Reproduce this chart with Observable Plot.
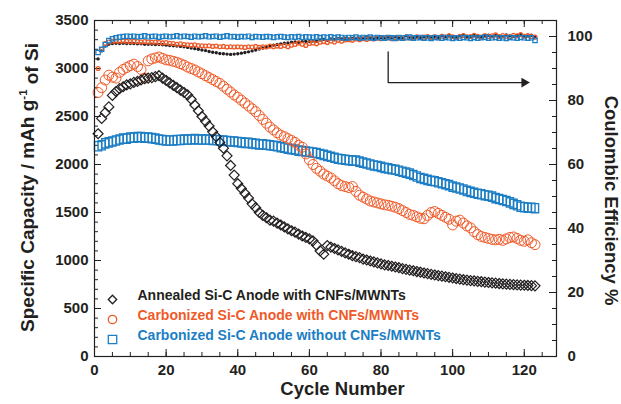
<!DOCTYPE html>
<html><head><meta charset="utf-8">
<script src="https://cdn.jsdelivr.net/npm/d3@7"></script>
<script src="https://cdn.jsdelivr.net/npm/@observablehq/plot@0.6"></script>
<style>
body{margin:0;background:#fff;}
#chart{width:621px;height:404px;}
</style></head><body><div id="chart"></div>
<script>
// ---------- data ----------
const cycles = d3.range(1, 124);
const annealedCap = [
2320,2480,2540,2600,2720,2760,2790,2810,2830,2840,
2855,2865,2880,2895,2900,2905,2915,2925,2900,2875,
2850,2825,2800,2775,2750,2725,2680,2620,2560,2500,
2450,2400,2340,2290,2230,2170,2090,1990,1890,1800,
1750,1700,1650,1590,1550,1500,1470,1445,1420,1410,
1390,1370,1350,1330,1310,1295,1275,1255,1240,1225,
1205,1160,1100,1065,1155,1140,1125,1110,1095,1080,
1065,1050,1040,1030,1015,1005,995,985,975,965,
955,948,940,932,925,915,908,900,893,885,
878,870,863,856,849,843,837,831,825,818,
812,806,800,796,791,787,783,779,775,771,
767,764,760,757,754,751,748,746,744,742,
740,738,736];
const carbonizedCap = [
2750,2800,2880,2930,2910,2900,2960,2990,3010,3030,
3045,3020,2990,2900,3080,3100,3110,3120,3105,3090,
3085,3075,3065,3050,3035,3015,3000,2985,2965,2945,
2925,2905,2885,2865,2845,2815,2785,2755,2725,2700,
2670,2640,2610,2580,2550,2510,2470,2430,2390,2360,
2330,2305,2290,2270,2250,2230,2200,2180,2110,2050,
2000,1960,1930,1900,1880,1860,1830,1800,1780,1770,
1760,1770,1720,1680,1660,1640,1620,1610,1600,1590,
1580,1575,1565,1555,1540,1520,1500,1480,1470,1455,
1440,1435,1470,1500,1510,1490,1470,1450,1430,1370,
1410,1420,1390,1360,1340,1300,1270,1250,1240,1230,
1220,1215,1220,1210,1225,1240,1245,1230,1210,1200,
1215,1185,1165];
const noCnfCap = [
2190,2200,2220,2230,2240,2250,2260,2270,2270,2280,
2280,2285,2285,2280,2280,2275,2270,2260,2255,2250,
2250,2250,2255,2255,2260,2260,2260,2265,2260,2260,
2260,2260,2255,2255,2250,2250,2245,2240,2240,2235,
2230,2225,2225,2220,2215,2210,2210,2205,2200,2195,
2190,2180,2175,2165,2160,2155,2145,2140,2135,2130,
2125,2120,2110,2100,2090,2080,2070,2060,2055,2050,
2045,2040,2040,2030,2020,2010,2000,1990,1985,1975,
1965,1960,1950,1945,1935,1925,1915,1905,1890,1875,
1860,1850,1840,1830,1825,1815,1805,1795,1785,1770,
1760,1750,1740,1725,1715,1705,1695,1690,1680,1675,
1665,1650,1640,1630,1620,1605,1590,1575,1560,1555,
1550,1550,1545];
const annealedCE = [
93.0,95.5,97.0,97.6,97.8,97.9,97.8,97.9,97.8,97.8,
97.8,97.7,97.7,97.6,97.6,97.6,97.5,97.5,97.4,97.3,
97.2,97.1,97.0,96.9,96.8,96.6,96.4,96.2,96.0,95.8,
95.6,95.3,95.1,94.9,94.7,94.6,94.5,94.4,94.5,94.6,
94.8,95.0,95.2,95.5,95.8,96.1,96.4,96.7,97.0,97.3,
97.5,97.7,97.9,98.0,98.2,98.3,98.2,98.4,98.5,98.4,
98.6,98.5,98.9,99.1,98.8,99.2,99.0,99.3,99.2,99.4,
99.2,99.4,99.3,99.5,99.4,99.6,99.5,99.4,99.7,99.6,
99.5,99.8,99.6,99.9,99.7,99.5,100.2,99.8,99.6,100.0,
99.7,99.9,100.1,99.8,100.0,99.7,100.3,99.9,100.4,100.0,
99.8,100.2,100.5,100.0,99.9,100.3,100.1,99.8,100.2,100.4,
100.0,100.3,100.1,99.9,100.5,100.2,100.0,100.3,100.6,100.1,
100.2,100.4,100.0];
const carbonizedCE = [
90.0,96.0,97.8,98.3,98.5,98.6,98.5,98.6,98.5,98.4,
98.5,98.4,98.3,98.4,98.3,98.2,98.3,98.1,98.0,98.1,
97.9,97.8,97.6,97.7,97.5,97.4,97.3,97.4,97.2,97.1,
97.0,97.1,96.9,97.0,96.8,96.9,96.7,96.8,96.7,96.8,
96.7,96.6,96.8,96.7,96.9,96.6,96.8,96.7,97.0,96.8,
97.0,96.9,97.2,96.8,97.3,97.5,98.0,97.6,97.2,97.8,
98.0,97.7,98.2,98.4,98.1,98.6,98.3,98.8,98.5,98.9,
99.0,98.8,99.2,99.0,99.3,99.1,99.4,99.2,99.5,99.3,
99.4,99.6,99.3,99.7,99.5,99.4,99.8,99.5,99.6,99.9,
99.6,99.8,100.0,99.7,99.9,99.6,100.1,99.8,100.2,99.9,
99.7,100.1,100.3,99.9,100.0,100.4,100.1,99.8,100.3,100.0,
100.2,100.5,100.0,100.3,100.1,99.9,100.4,100.2,100.6,100.1,
100.3,100.0,99.8];
const noCnfCE = [
95.0,96.0,97.5,98.7,99.3,99.6,99.8,100.0,100.1,100.0,
100.1,99.9,100.0,100.2,99.9,100.0,100.1,99.8,100.0,100.1,
99.9,100.0,100.2,99.9,100.1,100.0,99.8,100.1,99.9,100.0,
100.2,99.9,100.0,100.1,99.8,100.0,100.2,99.9,100.0,99.8,
100.0,99.9,100.1,99.7,100.0,99.9,99.8,100.0,99.9,99.7,
99.9,100.0,99.8,99.7,99.9,99.8,100.0,99.7,99.9,99.8,
99.7,99.9,99.6,99.8,99.7,99.9,99.6,99.8,99.7,99.5,
99.7,99.6,99.8,99.5,99.7,99.6,99.8,99.5,99.7,99.6,
99.5,99.7,99.6,99.4,99.7,99.5,99.6,99.8,99.5,99.6,
99.7,99.5,99.6,99.4,99.7,99.6,99.5,99.7,99.6,99.4,
99.6,99.5,99.7,99.6,99.4,99.7,99.5,99.6,99.8,99.5,
99.6,99.7,99.5,99.6,99.4,99.7,99.6,99.5,99.7,99.6,
99.5,99.6,98.8];
const seriesNames = ["Annealed Si-C Anode with CNFs/MWNTs","Carbonized Si-C Anode with CNFs/MWNTs","Carbonized Si-C Anode without CNFs/MWNTs"];
const xMajor = [0,20,40,60,80,100,120];
const xMinor = d3.range(0,130,5);
const capMajor = [0,500,1000,1500,2000,2500,3000,3500];
const capMinor = d3.range(0,3501,100);
const ceMajor = [0,20,40,60,80,100];
const ceMinor = d3.range(0,106,5);
const arrowPath = [{cycle:82, ce:95.2},{cycle:82, ce:85.6},{cycle:120, ce:85.6}];

// ---------- layout / style ----------
const W = 621, H = 404, mL = 94, mR = 65, mT = 20, mB = 48;
const pw = W - mL - mR, ph = H - mT - mB;
const K = 3500 / 105;           // CE -> capacity axis
const ink = "#231f20", orange = "#f05a28", blue = "#1c7ec4";
const toRows = (vals) => vals.map((v, i) => ({cycle: cycles[i], v}));
const rectSym = {draw(ctx){ const w=3.6,h=4.6; ctx.moveTo(-w,-h); ctx.lineTo(w,-h); ctx.lineTo(w,h); ctx.lineTo(-w,h); ctx.closePath(); }};
const smallSq = {draw(ctx){ const w=2.2; ctx.moveTo(-w,-w); ctx.lineTo(w,-w); ctx.lineTo(w,w); ctx.lineTo(-w,w); ctx.closePath(); }};
const legSq = {draw(ctx){ const w=4.2; ctx.moveTo(-w,-w); ctx.lineTo(w,-w); ctx.lineTo(w,w); ctx.lineTo(-w,w); ctx.closePath(); }};
const bold = {fontWeight: "bold"};

const legendRow = (i, dy, symbol, color, r) => [
  Plot.dot([seriesNames[i]], {frameAnchor: "bottom-left", dx: 18, dy, symbol, r, stroke: color, strokeWidth: 1.3, fill: "none"}),
  Plot.text([seriesNames[i]], {text: d => d, frameAnchor: "bottom-left", dx: 43, dy, textAnchor: "start", fill: color, fontSize: 14, ...bold})
];

const plot = Plot.plot({
  width: W, height: H, marginLeft: mL, marginRight: mR, marginTop: mT, marginBottom: mB,
  style: {fontFamily: '"Liberation Sans", Arial, Helvetica, sans-serif', color: ink, background: "white"},
  x: {domain: [0, 129], axis: null},
  y: {domain: [0, 3500], axis: null},
  marks: [
    // inward ticks
    Plot.tickY(capMinor, {y: d => d, insetRight: pw - 4, stroke: ink}),
    Plot.tickY(capMajor, {y: d => d, insetRight: pw - 7, stroke: ink}),
    Plot.tickY(ceMinor.map(v => v * K), {y: d => d, insetLeft: pw - 4, stroke: ink}),
    Plot.tickY(ceMajor.map(v => v * K), {y: d => d, insetLeft: pw - 7, stroke: ink}),
    Plot.tickX(xMinor, {x: d => d, insetTop: ph - 4, stroke: ink}),
    Plot.tickX(xMajor, {x: d => d, insetTop: ph - 7, stroke: ink}),
    Plot.tickX(xMinor, {x: d => d, insetBottom: ph - 4, stroke: ink}),
    Plot.tickX(xMajor, {x: d => d, insetBottom: ph - 7, stroke: ink}),
    // tick labels
    Plot.axisY({ticks: capMajor, tickSize: 0, tickPadding: 6, tickFormat: d => String(d), fontSize: 15, label: null, ...bold}),
    Plot.axisY({anchor: "right", ticks: ceMajor.map(v => v * K), tickSize: 0, tickPadding: 11, tickFormat: d => String(Math.round(d / K)), fontSize: 15, label: null, ...bold}),
    Plot.axisX({ticks: xMajor, tickSize: 0, tickPadding: 8, tickFormat: d => String(d), fontSize: 15, label: null, ...bold}),
    // axis titles
    Plot.text(["Cycle Number"], {text: d => d, frameAnchor: "bottom", dx: 17, dy: 38, fontSize: 18.5, ...bold}),
    Plot.text(["Specific Capacity / mAh g-1 of Si"], {text: d => d, frameAnchor: "left", textAnchor: "middle", dx: -67, dy: -1, rotate: -90, fontSize: 19, ...bold}),
    Plot.text(["Coulombic Efficiency %"], {text: d => d, frameAnchor: "right", textAnchor: "middle", dx: 54, dy: 12, rotate: 90, fontSize: 18.5, ...bold}),
    // capacity series
    Plot.dot(toRows(noCnfCap), {x: "cycle", y: "v", symbol: rectSym, stroke: blue, strokeWidth: 1.4, fill: "none"}),
    Plot.dot(toRows(carbonizedCap), {x: "cycle", y: "v", r: 5, stroke: orange, strokeWidth: 1, fill: "none"}),
    Plot.dot(toRows(annealedCap), {x: "cycle", y: "v", symbol: "diamond2", r: 4.5, stroke: ink, strokeWidth: 1.2, fill: "none"}),
    // coulombic efficiency series
    Plot.dot(toRows(annealedCE), {x: "cycle", y: d => d.v * K, r: 1.7, fill: ink, stroke: "none"}),
    Plot.dot(toRows(carbonizedCE), {x: "cycle", y: d => d.v * K, r: 1.9, stroke: orange, strokeWidth: 1.3, fill: "none"}),
    Plot.dot(toRows(noCnfCE), {x: "cycle", y: d => d.v * K, symbol: smallSq, stroke: blue, strokeWidth: 1.2, fill: "none"}),
    // arrow annotation
    Plot.line(arrowPath, {x: "cycle", y: d => d.ce * K, stroke: ink, strokeWidth: 1.3}),
    Plot.dot(arrowPath.slice(-1), {x: "cycle", y: d => d.ce * K, symbol: "triangle", rotate: 90, r: 3.6, fill: ink, stroke: "none"}),
    // legend
    ...legendRow(0, -57, "diamond2", ink, 3.8),
    ...legendRow(1, -37, "circle", orange, 4.2),
    ...legendRow(2, -17, legSq, blue, 4),
    Plot.frame({stroke: ink, strokeWidth: 1.2})
  ]
});

// superscript for g^-1
d3.select(plot).selectAll("text").filter(function(){ return this.textContent === "Specific Capacity / mAh g-1 of Si"; })
  .each(function(){
    const t = d3.select(this);
    t.text(null);
    t.append("tspan").text("Specific Capacity / mAh g");
    t.append("tspan").attr("dy", "-0.55em").attr("font-size", "0.6em").text("-1");
    t.append("tspan").attr("dy", "0.55em").text(" of Si");
  });

document.getElementById("chart").appendChild(plot);
</script>
</body></html>
